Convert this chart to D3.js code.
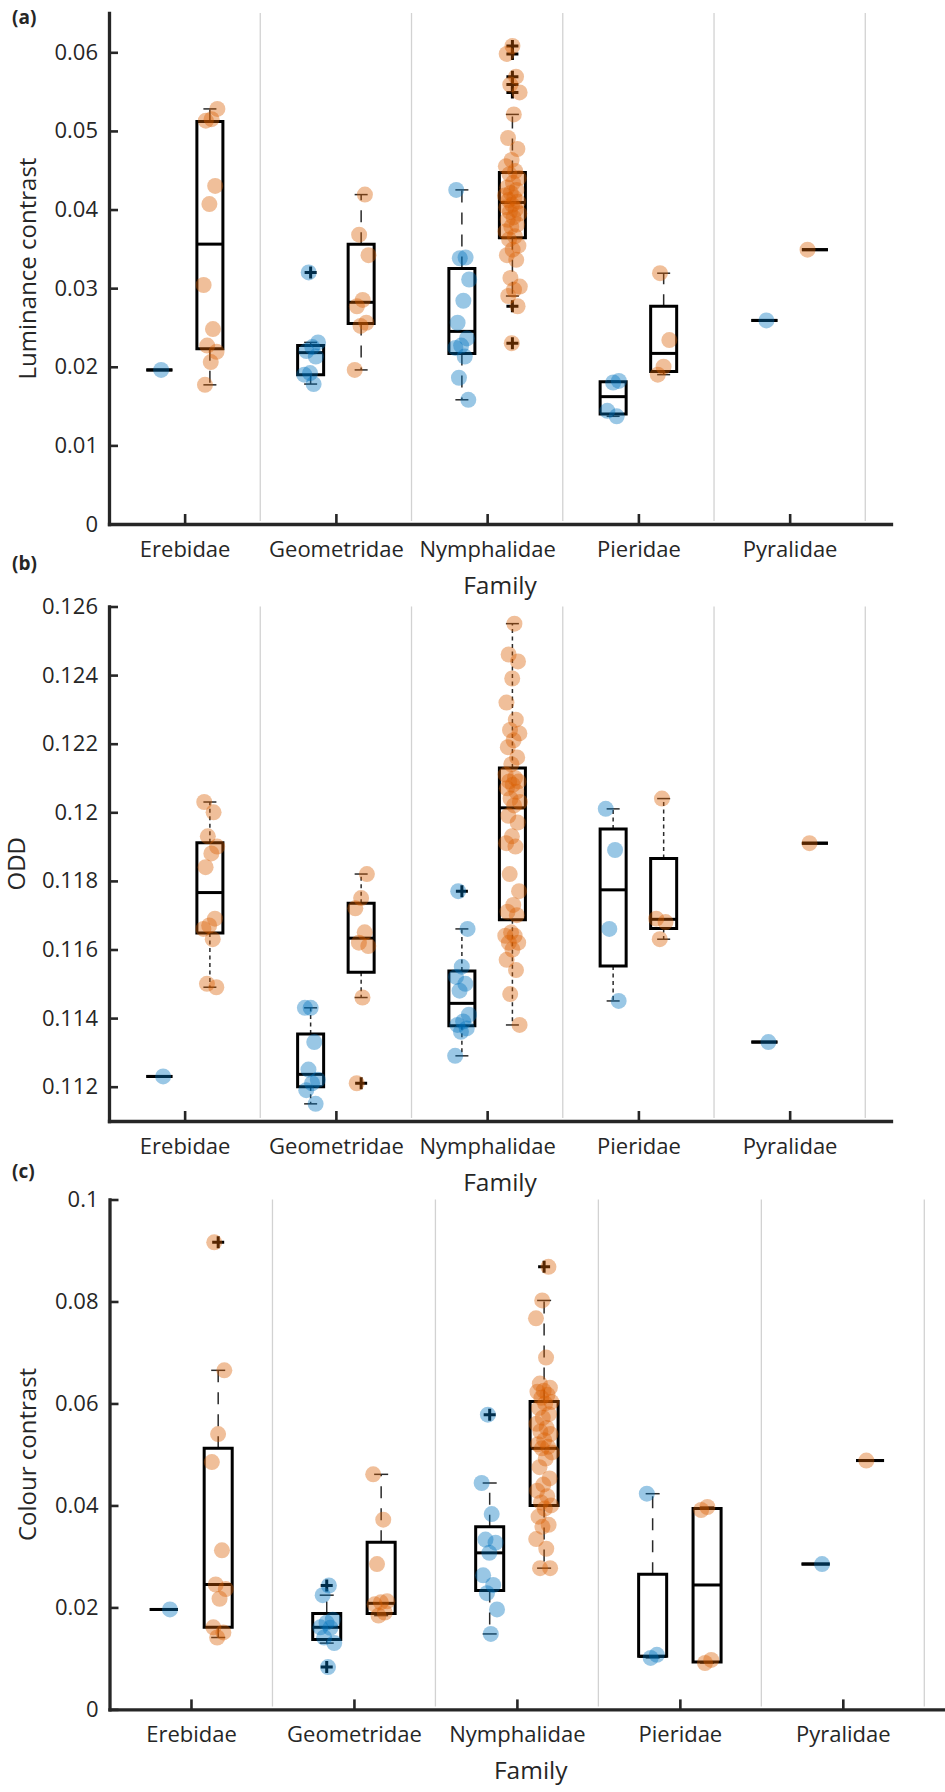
<!DOCTYPE html>
<html><head><meta charset="utf-8">
<script src="https://cdn.jsdelivr.net/npm/d3@7"></script>
<style>
html,body{margin:0;padding:0;background:#fff;}
svg text{font-family:"Open Sans","Noto Sans",sans-serif;fill:#262626;}
</style></head><body>
<svg id="chart" width="945" height="1792"></svg>
<script>
// ---------------- DATA ----------------
const families = ["Erebidae", "Geometridae", "Nymphalidae", "Pieridae", "Pyralidae"];

// (a) Luminance contrast – raw points per family
const lumBlue = [
  [0.0196],
  [0.0320, 0.0231, 0.0225, 0.0220, 0.0213, 0.0192, 0.0190, 0.0178],
  [0.0425, 0.0339, 0.0338, 0.0311, 0.0284, 0.0256, 0.0236, 0.0227, 0.0224, 0.0213, 0.0186, 0.0158],
  [0.0182, 0.0180, 0.0144, 0.0137],
  [0.0259]
];
const lumOrange = [
  [0.0528, 0.0515, 0.0513, 0.0430, 0.0407, 0.0304, 0.0248, 0.0227, 0.0219, 0.0206, 0.0177],
  [0.0419, 0.0368, 0.0342, 0.0285, 0.0277, 0.0256, 0.0252, 0.0196],
  [0.0608, 0.0598, 0.0569, 0.0559, 0.0549, 0.0521, 0.0491, 0.0477, 0.0463, 0.0455, 0.0449, 0.0445,
   0.0440, 0.0434, 0.0428, 0.0425, 0.0421, 0.0418, 0.0415, 0.0412, 0.0410, 0.0406, 0.0403, 0.0400,
   0.0397, 0.0395, 0.0390, 0.0387, 0.0381, 0.0378, 0.0372, 0.0366, 0.0362, 0.0354, 0.0349, 0.0342,
   0.0336, 0.0313, 0.0302, 0.0298, 0.0290, 0.0277, 0.0230],
  [0.0319, 0.0234, 0.0200, 0.0190],
  [0.0349]
];
// box stats: [lower whisker, q1, median, q3, upper whisker]
const lumBoxBlue = [
  [0.0196, 0.0196, 0.0196, 0.0196, 0.0196],
  [0.0178, 0.0190, 0.0218, 0.0227, 0.0231],
  [0.0158, 0.0217, 0.0245, 0.0325, 0.0425],
  [0.0137, 0.0140, 0.0162, 0.0181, 0.0182],
  [0.0259, 0.0259, 0.0259, 0.0259, 0.0259]
];
const lumBoxOrange = [
  [0.0177, 0.0223, 0.0356, 0.0512, 0.0528],
  [0.0196, 0.0255, 0.0282, 0.0356, 0.0419],
  [0.0290, 0.0364, 0.0409, 0.0447, 0.0521],
  [0.0190, 0.0194, 0.0217, 0.0277, 0.0319],
  [0.0349, 0.0349, 0.0349, 0.0349, 0.0349]
];
const lumTicks = [0, 0.01, 0.02, 0.03, 0.04, 0.05, 0.06];
const lumDomain = [0, 0.065];

// (b) ODD
const oddBlue = [
  [0.1123],
  [0.1143, 0.1143, 0.1133, 0.1125, 0.1122, 0.1121, 0.1119, 0.1115],
  [0.1177, 0.1166, 0.1155, 0.1152, 0.1150, 0.1148, 0.1141, 0.1139, 0.1138, 0.1137, 0.1136, 0.1129],
  [0.1201, 0.1189, 0.1166, 0.1145],
  [0.1133]
];
const oddOrange = [
  [0.1203, 0.1200, 0.1193, 0.1190, 0.1188, 0.1184, 0.1169, 0.1167, 0.1166, 0.1163, 0.1150, 0.1149],
  [0.1182, 0.1175, 0.1172, 0.1165, 0.1162, 0.1161, 0.1146, 0.1121],
  [0.1255, 0.1246, 0.1244, 0.1239, 0.1232, 0.1227, 0.1224, 0.1223, 0.1221, 0.1219, 0.1216, 0.1214,
   0.1211, 0.1210, 0.1209, 0.1209, 0.1208, 0.1207, 0.1206, 0.1204, 0.1203, 0.1202, 0.1199, 0.1197,
   0.1193, 0.1191, 0.1190, 0.1182, 0.1177, 0.1173, 0.1171, 0.1170, 0.1165, 0.1164, 0.1164, 0.1162,
   0.1162, 0.1160, 0.1157, 0.1154, 0.1147, 0.1138],
  [0.1204, 0.1169, 0.1168, 0.1163],
  [0.1191]
];
const oddBoxBlue = [
  [0.1123, 0.1123, 0.1123, 0.1123, 0.1123],
  [0.1115, 0.1120, 0.11236, 0.11354, 0.1143],
  [0.1129, 0.11378, 0.11443, 0.11537, 0.1166],
  [0.1145, 0.11552, 0.11774, 0.11951, 0.1201],
  [0.1133, 0.1133, 0.1133, 0.1133, 0.1133]
];
const oddBoxOrange = [
  [0.1149, 0.11648, 0.11766, 0.11911, 0.1203],
  [0.1146, 0.11534, 0.11633, 0.11735, 0.1182],
  [0.1138, 0.11687, 0.12013, 0.12129, 0.1255],
  [0.1163, 0.11661, 0.11688, 0.11865, 0.1204],
  [0.1191, 0.1191, 0.1191, 0.1191, 0.1191]
];
const oddTicks = [0.112, 0.114, 0.116, 0.118, 0.12, 0.122, 0.124, 0.126];
const oddDomain = [0.111, 0.126];

// (c) Colour contrast
const colBlue = [
  [0.0196],
  [0.0243, 0.0224, 0.0176, 0.0170, 0.0161, 0.0160, 0.0141, 0.0130, 0.0083],
  [0.0578, 0.0444, 0.0383, 0.0333, 0.0327, 0.0307, 0.0263, 0.0244, 0.0228, 0.0196, 0.0148],
  [0.0423, 0.0107, 0.0101],
  [0.0285]
];
const colOrange = [
  [0.0916, 0.0665, 0.0540, 0.0485, 0.0312, 0.0245, 0.0236, 0.0217, 0.0161, 0.0151, 0.0141],
  [0.0461, 0.0372, 0.0285, 0.0212, 0.0210, 0.0206, 0.0190, 0.0184],
  [0.0868, 0.0802, 0.0767, 0.0690, 0.0639, 0.0631, 0.0625, 0.0623, 0.0617, 0.0611, 0.0603, 0.0600,
   0.0591, 0.0579, 0.0572, 0.0560, 0.0552, 0.0545, 0.0540, 0.0528, 0.0520, 0.0515, 0.0512, 0.0504,
   0.0492, 0.0475, 0.0453, 0.0441, 0.0429, 0.0418, 0.0406, 0.0400, 0.0394, 0.0378, 0.0362, 0.0358,
   0.0334, 0.0315, 0.0277, 0.0277],
  [0.0397, 0.0391, 0.0097, 0.0091],
  [0.0488]
];
const colBoxBlue = [
  [0.0196, 0.0196, 0.0196, 0.0196, 0.0196],
  [0.0130, 0.0137, 0.0161, 0.0188, 0.0224],
  [0.0148, 0.0233, 0.0307, 0.0358, 0.0444],
  [0.0101, 0.0104, 0.0104, 0.0265, 0.0423],
  [0.0285, 0.0285, 0.0285, 0.0285, 0.0285]
];
const colBoxOrange = [
  [0.0141, 0.0161, 0.0245, 0.0512, 0.0665],
  [0.0184, 0.0188, 0.0208, 0.0328, 0.0461],
  [0.0277, 0.0400, 0.0512, 0.0604, 0.0802],
  [0.0091, 0.0093, 0.0244, 0.0394, 0.0397],
  [0.0488, 0.0488, 0.0488, 0.0488, 0.0488]
];
const colTicks = [0, 0.02, 0.04, 0.06, 0.08, 0.1];
const colDomain = [0, 0.1];

const xDomain = [0.5, 5.67];
const gridAt = [1.5, 2.5, 3.5, 4.5, 5.5];

// ---------------- DRAWING ----------------
const svg = d3.select("#chart");
const FONT = "'Open Sans','Noto Sans',sans-serif";
const BLUE = "#0072BD", ORANGE = "#D95F02";
const GROUP_OFF = 0.167, BOX_HALF = 0.086;
const PHI = 0.6180339887;
const jitter = (k, seed) => ((((k + 1) * PHI + seed * 0.377) % 1) - 0.5) * 0.1;

const panels = [
  {tag: "(a)", tagY: 24, title: "Luminance contrast", titleX: 36,
   blue: lumBlue, orange: lumOrange, boxBlue: lumBoxBlue, boxOrange: lumBoxOrange,
   ticks: lumTicks, yDomain: lumDomain, yRange: [524, 13], xRange: [109, 891], dash: "12,10"},
  {tag: "(b)", tagY: 570, title: "ODD", titleX: 25,
   blue: oddBlue, orange: oddOrange, boxBlue: oddBoxBlue, boxOrange: oddBoxOrange,
   ticks: oddTicks, yDomain: oddDomain, yRange: [1121, 606.5], xRange: [109, 891], dash: "4,3.5"},
  {tag: "(c)", tagY: 1178, title: "Colour contrast", titleX: 36,
   blue: colBlue, orange: colOrange, boxBlue: colBoxBlue, boxOrange: colBoxOrange,
   ticks: colTicks, yDomain: colDomain, yRange: [1709.4, 1199.5], xRange: [109.5, 952], dash: "12,10"}
];

panels.forEach((p, pi) => {
  const x = d3.scaleLinear().domain(xDomain).range(p.xRange);
  const y = d3.scaleLinear().domain(p.yDomain).range(p.yRange);
  const g = svg.append("g");

  // vertical separators
  g.selectAll("line.grid").data(gridAt).join("line")
    .attr("class", "grid")
    .attr("x1", d => x(d)).attr("x2", d => x(d))
    .attr("y1", p.yRange[1]).attr("y2", p.yRange[0] - 3)
    .attr("stroke", "#d2d2d2").attr("stroke-width", 1.3);

  // axes
  const yAxis = d3.axisLeft(y).tickValues(p.ticks).tickFormat(d3.format("~g"))
    .tickSizeInner(-9).tickSizeOuter(0).tickPadding(11);
  const gy = g.append("g").attr("transform", `translate(${p.xRange[0]},0)`).call(yAxis);
  const xAxis = d3.axisBottom(x).tickValues([1, 2, 3, 4, 5]).tickFormat(d => families[d - 1])
    .tickSizeInner(-10).tickSizeOuter(0).tickPadding(17);
  const gx = g.append("g").attr("transform", `translate(0,${p.yRange[0]})`).call(xAxis);
  [gx, gy].forEach(a => {
    a.attr("font-size", 22).attr("font-family", FONT);
    a.select(".domain").attr("stroke", "#262626").attr("stroke-width", 3.3).attr("stroke-linecap", "square");
    a.selectAll(".tick line").attr("stroke", "#262626").attr("stroke-width", 2.6);
    a.selectAll(".tick text").attr("fill", "#262626");
  });

  // titles
  g.append("text").text(p.tag).attr("x", 12).attr("y", p.tagY)
    .attr("font-size", 19).attr("font-weight", "bold").attr("fill", "#111");
  g.append("text").text(p.title)
    .attr("transform", `translate(${p.titleX},${(p.yRange[0] + p.yRange[1]) / 2}) rotate(-90)`)
    .attr("text-anchor", "middle").attr("font-size", 24);
  g.append("text").text("Family")
    .attr("x", (p.xRange[0] + p.xRange[1]) / 2).attr("y", p.yRange[0] + 70)
    .attr("text-anchor", "middle").attr("font-size", 24.5);

  const halfW = x(1 + BOX_HALF) - x(1);
  const groups = [
    {pts: p.blue, box: p.boxBlue, off: -GROUP_OFF, color: BLUE, seed: 0},
    {pts: p.orange, box: p.boxOrange, off: GROUP_OFF, color: ORANGE, seed: 1}
  ];

  const gBox = g.append("g");
  const gPts = g.append("g");

  groups.forEach(gr => {
    families.forEach((f, fi) => {
      const [lo, q1, med, q3, hi] = gr.box[fi];
      const cx = x(fi + 1 + gr.off);
      const wl = gBox.append("g").attr("stroke", "#2a2a2a").attr("stroke-width", 1.5).attr("fill", "none");
      if (hi > q3) {
        wl.append("line").attr("x1", cx).attr("x2", cx).attr("y1", y(q3)).attr("y2", y(hi))
          .attr("stroke-dasharray", p.dash);
      }
      if (lo < q1) {
        wl.append("line").attr("x1", cx).attr("x2", cx).attr("y1", y(q1)).attr("y2", y(lo))
          .attr("stroke-dasharray", p.dash);
      }
      [hi, lo].forEach(v => {
        wl.append("line").attr("x1", cx - halfW * 0.5).attr("x2", cx + halfW * 0.5)
          .attr("y1", y(v)).attr("y2", y(v));
      });
      // box
      gBox.append("path")
        .attr("d", `M${cx - halfW},${y(q3)}H${cx + halfW}V${y(q1)}H${cx - halfW}Z`)
        .attr("fill", "none").attr("stroke", "#000").attr("stroke-width", 3).attr("stroke-linejoin", "miter");
      gBox.append("line").attr("x1", cx - halfW).attr("x2", cx + halfW)
        .attr("y1", y(med)).attr("y2", y(med))
        .attr("stroke", "#000").attr("stroke-width", 3);
      // outliers
      gr.pts[fi].filter(v => v > hi + 1e-9 || v < lo - 1e-9).forEach(v => {
        const cy = y(v);
        gBox.append("path").attr("d", `M${cx - 6},${cy}H${cx + 6}M${cx},${cy - 6}V${cy + 6}`)
          .attr("stroke", "#000").attr("stroke-width", 3).attr("fill", "none");
      });
      // points
      gPts.selectAll(null).data(gr.pts[fi]).join("circle")
        .attr("cx", (d, k) => x(fi + 1 + gr.off + jitter(k, gr.seed + fi * 2 + pi * 3)))
        .attr("cy", d => y(d))
        .attr("r", 8)
        .attr("fill", gr.color).attr("fill-opacity", 0.4);
    });
  });
});
</script>
</body></html>
